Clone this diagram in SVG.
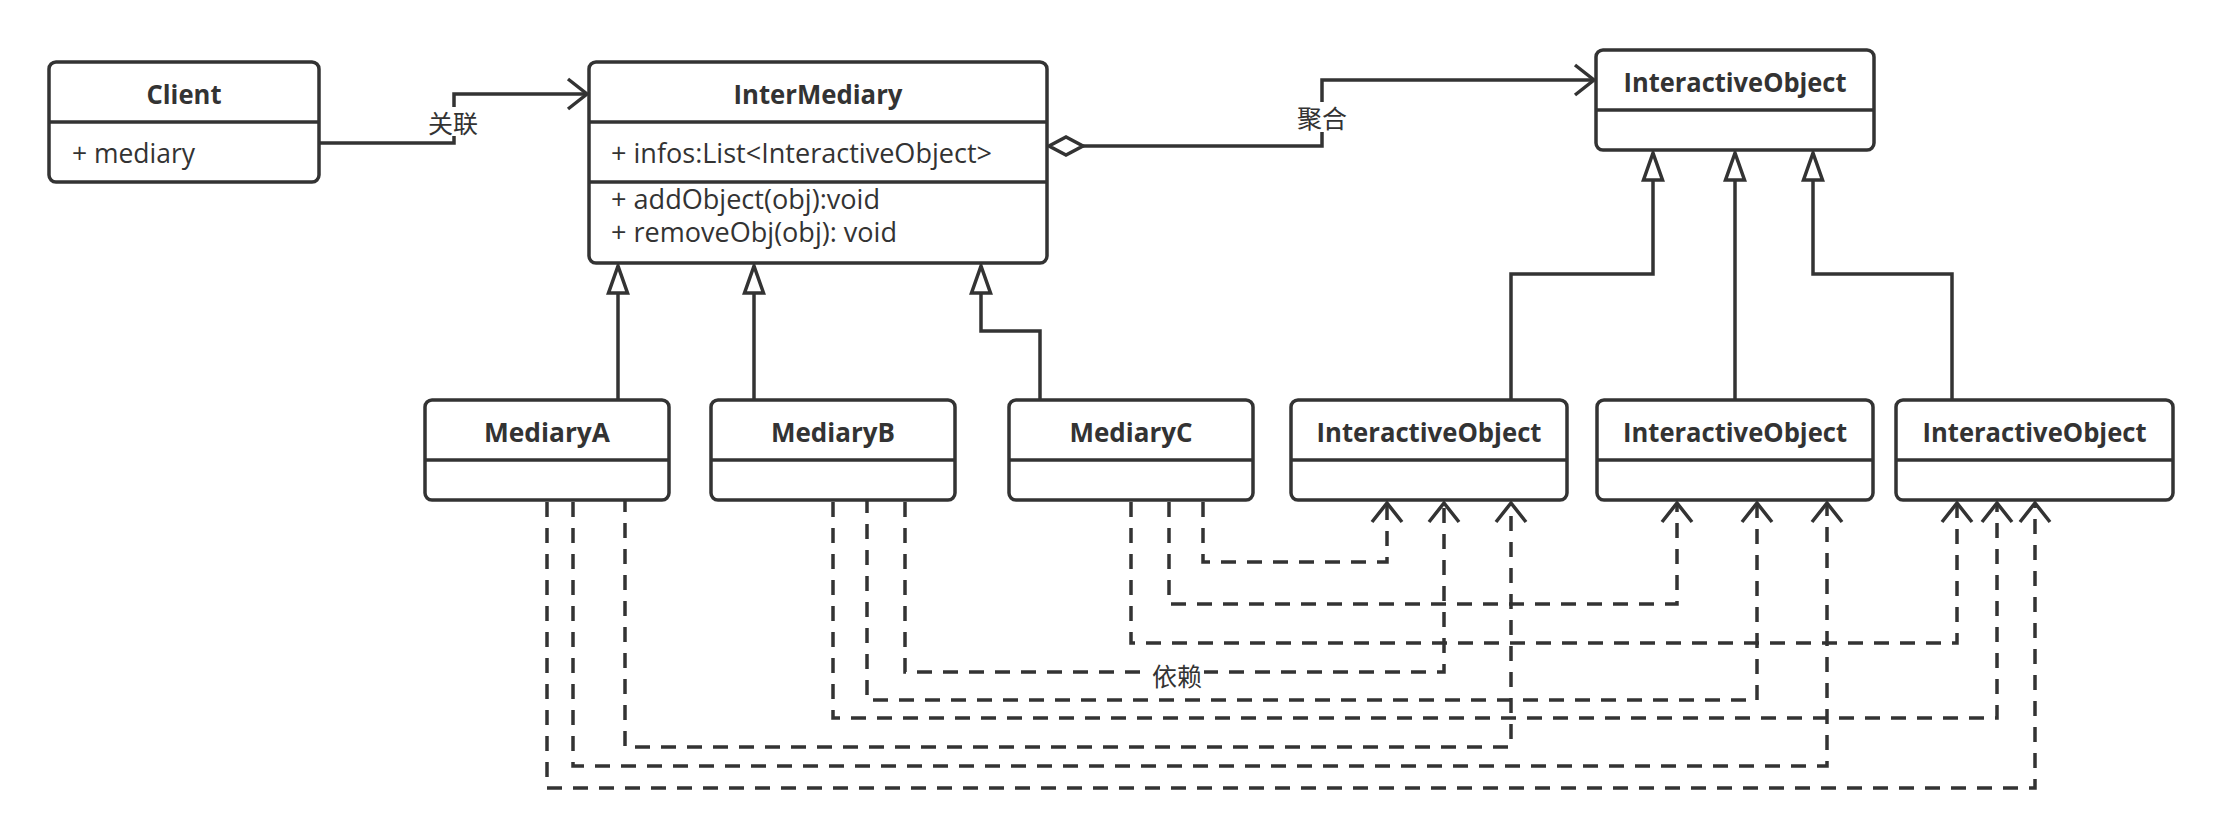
<svg xmlns="http://www.w3.org/2000/svg" width="2224" height="838" viewBox="0 0 2224 838">
<style>
.bg{fill:#fff}
.box{fill:#fff;stroke:#333;stroke-width:3.5}
.sep{stroke:#333;stroke-width:3.5;fill:none}
.title{font-family:"Open Sans","Liberation Sans",sans-serif;font-weight:bold;font-size:27px;fill:#333;text-anchor:middle}
.attr{font-family:"Open Sans","Liberation Sans",sans-serif;font-size:27px;fill:#333}
.edge{fill:none;stroke:#333;stroke-width:3.5}
.dep{stroke-dasharray:15 11}
.lbl{font-family:"Noto Sans CJK SC","Noto Sans",sans-serif;font-size:25px;fill:#333;text-anchor:middle;dominant-baseline:central}
</style>
<defs>
<marker id="open" markerUnits="userSpaceOnUse" viewBox="-24 -20 28 40" markerWidth="28" markerHeight="40" refX="0" refY="0" orient="auto" overflow="visible">
<path d="M-19,-15 L0,0 L-19,15" fill="none" stroke="#333" stroke-width="3.5" stroke-dasharray="none"/>
</marker>
<marker id="tri" markerUnits="userSpaceOnUse" viewBox="-32 -14 36 28" markerWidth="36" markerHeight="28" refX="0" refY="0" orient="auto" overflow="visible">
<path d="M0,0 L-27,-9.5 L-27,9.5 Z" fill="#fff" stroke="#333" stroke-width="3.5"/>
</marker>
<marker id="dia" markerUnits="userSpaceOnUse" viewBox="-4 -14 42 28" markerWidth="42" markerHeight="28" refX="0" refY="0" orient="auto" overflow="visible">
<path d="M0,0 L17,-9 L34,0 L17,9 Z" fill="#fff" stroke="#333" stroke-width="3.5"/>
</marker>
</defs>
<rect class="bg" x="0" y="0" width="2224" height="838"/>

<g id="connectors">
  <g id="assoc">
    <path class="edge" d="M319,143 H454 V94 H587" marker-end="url(#open)"/>
    <rect class="bg" x="427" y="107" width="52" height="29"/>
    <text class="lbl" x="453" y="122">关联</text>
  </g>
  <g id="aggr">
    <path class="edge" d="M1049,146 H1322 V80 H1594" marker-start="url(#dia)" marker-end="url(#open)"/>
    <rect class="bg" x="1295" y="102" width="54" height="30"/>
    <text class="lbl" x="1322" y="117">聚合</text>
  </g>
  <g id="inherit-mediary">
    <path class="edge" d="M618,400 V266" marker-end="url(#tri)"/>
    <path class="edge" d="M754,400 V266" marker-end="url(#tri)"/>
    <path class="edge" d="M1040,400 V331 H981 V266" marker-end="url(#tri)"/>
  </g>
  <g id="inherit-io">
    <path class="edge" d="M1511,400 V274 H1653 V153" marker-end="url(#tri)"/>
    <path class="edge" d="M1735,400 V153" marker-end="url(#tri)"/>
    <path class="edge" d="M1952,400 V274 H1813 V153" marker-end="url(#tri)"/>
  </g>
  <g id="dependencies">
    <path class="edge dep" d="M547,502 V788 H2035 V503" marker-end="url(#open)"/>
    <path class="edge dep" d="M573,502 V766 H1827 V503" marker-end="url(#open)"/>
    <path class="edge dep" d="M625,497 V747 H1511 V503" marker-end="url(#open)"/>
    <path class="edge dep" d="M833,502 V718 H1997 V503" marker-end="url(#open)"/>
    <path class="edge dep" d="M867,498 V700 H1757 V503" marker-end="url(#open)"/>
    <path class="edge dep" d="M905,502 V672 H1444 V503" marker-end="url(#open)"/>
    <path class="edge dep" d="M1131,502 V643 H1957 V503" marker-end="url(#open)"/>
    <path class="edge dep" d="M1169,502 V604 H1677 V503" marker-end="url(#open)"/>
    <path class="edge dep" d="M1203,502 V562 H1387 V503" marker-end="url(#open)"/>
    <rect class="bg" x="1150" y="661" width="54" height="28"/>
    <text class="lbl" x="1177" y="675">依赖</text>
  </g>
</g>

<g id="Client">
  <rect class="box" x="49" y="62" width="270" height="120" rx="7"/>
  <line class="sep" x1="49" y1="122" x2="319" y2="122"/>
  <text class="title" x="184" y="104" textLength="75" lengthAdjust="spacingAndGlyphs">Client</text>
  <text class="attr" x="72" y="163" textLength="123" lengthAdjust="spacingAndGlyphs">+ mediary</text>
</g>

<g id="InterMediary">
  <rect class="box" x="589" y="62" width="458" height="201" rx="7"/>
  <line class="sep" x1="589" y1="122" x2="1047" y2="122"/>
  <line class="sep" x1="589" y1="182" x2="1047" y2="182"/>
  <text class="title" x="818" y="104" textLength="169" lengthAdjust="spacingAndGlyphs">InterMediary</text>
  <text class="attr" x="611" y="163" textLength="381" lengthAdjust="spacingAndGlyphs">+ infos:List&lt;InteractiveObject&gt;</text>
  <text class="attr" x="611" y="209" textLength="269" lengthAdjust="spacingAndGlyphs">+ addObject(obj):void</text>
  <text class="attr" x="611" y="241.5" textLength="286" lengthAdjust="spacingAndGlyphs">+ removeObj(obj): void</text>
</g>

<g id="InteractiveObject">
  <rect class="box" x="1596" y="50" width="278" height="100" rx="7"/>
  <line class="sep" x1="1596" y1="110" x2="1874" y2="110"/>
  <text class="title" x="1735" y="92" textLength="223" lengthAdjust="spacingAndGlyphs">InteractiveObject</text>
</g>

<g id="MediaryA">
  <rect class="box" x="425" y="400" width="244" height="100" rx="7"/>
  <line class="sep" x1="425" y1="460" x2="669" y2="460"/>
  <text class="title" x="547" y="442" textLength="126" lengthAdjust="spacingAndGlyphs">MediaryA</text>
</g>

<g id="MediaryB">
  <rect class="box" x="711" y="400" width="244" height="100" rx="7"/>
  <line class="sep" x1="711" y1="460" x2="955" y2="460"/>
  <text class="title" x="833" y="442" textLength="124" lengthAdjust="spacingAndGlyphs">MediaryB</text>
</g>

<g id="MediaryC">
  <rect class="box" x="1009" y="400" width="244" height="100" rx="7"/>
  <line class="sep" x1="1009" y1="460" x2="1253" y2="460"/>
  <text class="title" x="1131" y="442" textLength="123" lengthAdjust="spacingAndGlyphs">MediaryC</text>
</g>

<g id="InteractiveObject1">
  <rect class="box" x="1291" y="400" width="276" height="100" rx="7"/>
  <line class="sep" x1="1291" y1="460" x2="1567" y2="460"/>
  <text class="title" x="1429" y="442" textLength="225" lengthAdjust="spacingAndGlyphs">InteractiveObject</text>
</g>

<g id="InteractiveObject2">
  <rect class="box" x="1597" y="400" width="276" height="100" rx="7"/>
  <line class="sep" x1="1597" y1="460" x2="1873" y2="460"/>
  <text class="title" x="1735" y="442" textLength="224" lengthAdjust="spacingAndGlyphs">InteractiveObject</text>
</g>

<g id="InteractiveObject3">
  <rect class="box" x="1896" y="400" width="277" height="100" rx="7"/>
  <line class="sep" x1="1896" y1="460" x2="2173" y2="460"/>
  <text class="title" x="2034.5" y="442" textLength="224" lengthAdjust="spacingAndGlyphs">InteractiveObject</text>
</g>
</svg>
